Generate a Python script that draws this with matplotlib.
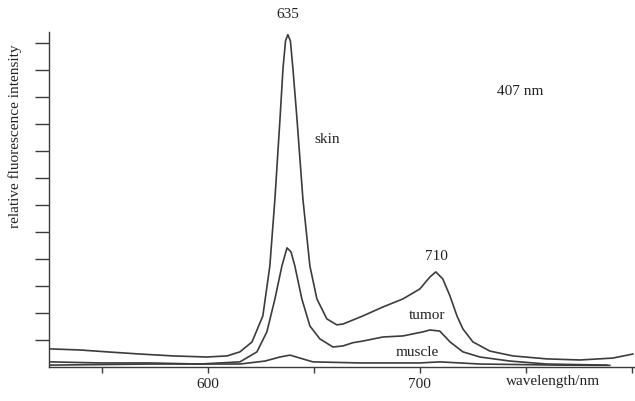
import matplotlib
matplotlib.use("Agg")
import matplotlib.pyplot as plt

# values (wavelength in nm, intensity in tick units)
skin_wl = [525.5, 539.6, 552.4, 567.9, 583.5, 599.5, 609.0, 615.1, 620.8, 625.9,
           629.2, 631.6, 634.0, 635.4, 636.6, 637.7, 638.9, 640.1, 642.0, 644.8,
           648.1, 651.4, 656.1, 660.8, 663.7, 668.4, 673.1, 682.5, 692.0, 700.0,
           704.7, 707.5, 710.8, 714.2, 717.5, 720.3, 725.0, 733.0, 743.9, 759.9,
           775.5, 791.0, 800.5]
skin_int = [0.67, 0.63, 0.56, 0.48, 0.41, 0.37, 0.41, 0.56, 0.93, 1.89,
            3.74, 6.22, 9.19, 11.04, 12.07, 12.30, 12.07, 11.04, 9.19, 6.22,
            3.74, 2.52, 1.78, 1.56, 1.59, 1.74, 1.89, 2.22, 2.52, 2.89,
            3.33, 3.52, 3.26, 2.63, 1.89, 1.41, 0.93, 0.59, 0.41, 0.30,
            0.26, 0.33, 0.48]

tumor_wl = [525.5, 549.1, 572.6, 596.2, 615.1, 623.1, 627.8, 631.6, 634.9, 637.3,
            639.2, 641.0, 644.3, 648.1, 652.8, 659.0, 663.7, 668.4, 673.1, 682.5,
            692.0, 701.4, 704.7, 709.4, 714.2, 720.3, 728.3, 742.5, 759.9, 788.2]
tumor_int = [0.19, 0.15, 0.15, 0.11, 0.19, 0.56, 1.30, 2.52, 3.74, 4.41,
             4.26, 3.74, 2.52, 1.52, 1.04, 0.74, 0.78, 0.90, 0.96, 1.11,
             1.15, 1.30, 1.37, 1.33, 0.93, 0.56, 0.37, 0.22, 0.11, 0.07]

muscle_wl = [525.5, 572.6, 615.1, 626.9, 634.0, 638.7, 643.4, 649.5, 671.7, 700.0,
             709.4, 728.3, 766.0, 789.6]
muscle_int = [0.07, 0.11, 0.11, 0.22, 0.37, 0.44, 0.33, 0.19, 0.15, 0.15,
              0.19, 0.11, 0.07, 0.06]

x_ticks = [550, 600, 650, 700, 750, 800]
x_tick_labels = ["", "600", "", "700", "", ""]
y_ticks = list(range(1, 13))

plt.rcParams['font.family'] = ['Liberation Serif', 'DejaVu Serif']
ink = "#3c3c3c"

fig = plt.figure(figsize=(6.35, 4.02), dpi=100)
ax = fig.add_axes([49 / 635, 34 / 402, 586 / 635, 335 / 402])

for wl, inten in [(skin_wl, skin_int), (tumor_wl, tumor_int), (muscle_wl, muscle_int)]:
    ax.plot(wl, inten, color=ink, linewidth=1.2)

ax.set_xlim(525, 801.5)
ax.set_ylim(0, 12.4)
ax.spines['top'].set_visible(False)
ax.spines['right'].set_visible(False)
for s in ['left', 'bottom']:
    ax.spines[s].set_color(ink)
    ax.spines[s].set_linewidth(1.0)

ax.set_xticks(x_ticks)
ax.set_xticklabels(x_tick_labels)
ax.set_yticks(y_ticks)
ax.set_yticklabels([])
ax.tick_params(axis='x', direction='out', length=4.5, width=1.0, color=ink,
               labelsize=11, pad=2.5, labelcolor="#222222")
ax.tick_params(axis='y', direction='out', length=10, width=1.0, color=ink)

txt = dict(fontsize=11, color="#222222", ha='center', va='center', clip_on=False)
ax.text(637.7, 13.07, "635", **txt)
ax.text(656.1, 8.44, "skin", **txt)
ax.text(747.2, 10.22, "407 nm", **txt)
ax.text(708.0, 4.11, "710", **txt)
ax.text(703.3, 1.93, "tumor", **txt)
ax.text(698.6, 0.56, "muscle", **txt)

fig.text(553 / 635, 1 - 382 / 402, "wavelength/nm", fontsize=11, color="#222222",
         ha='center', va='center')
fig.text(15 / 635, 1 - 136 / 402, "relative fluorescence intensity", fontsize=11,
         color="#222222", ha='center', va='center', rotation=90)

fig.savefig("out.png", dpi=100)
